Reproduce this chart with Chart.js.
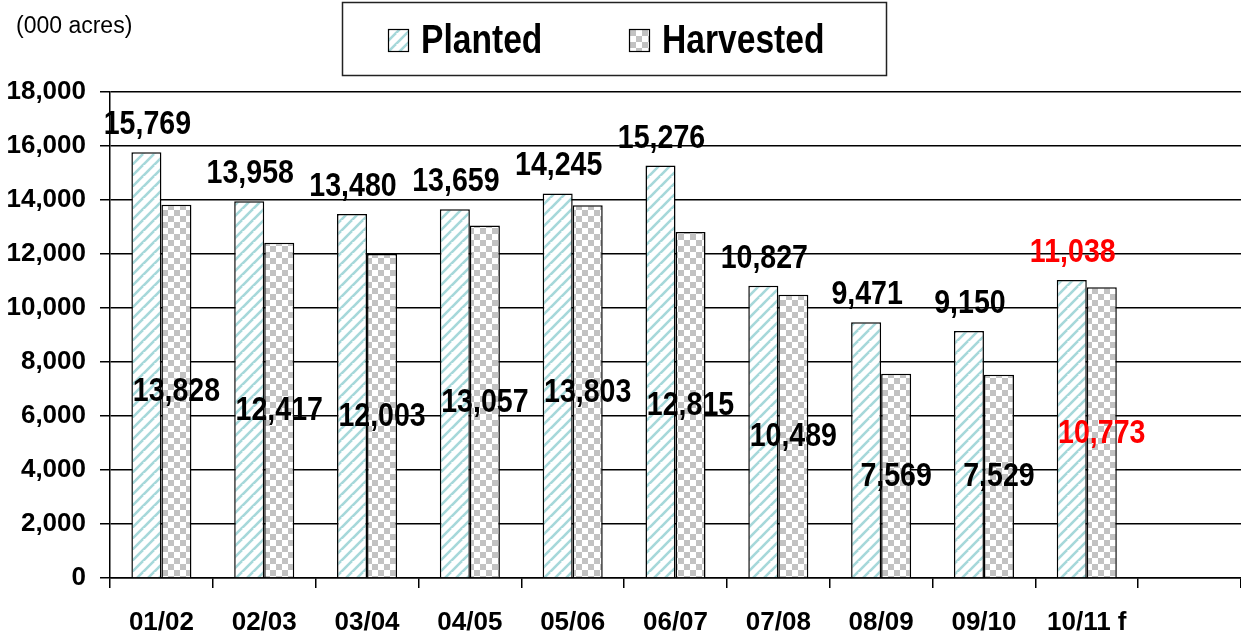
<!DOCTYPE html>
<html>
<head>
<meta charset="utf-8">
<script src="https://cdn.jsdelivr.net/npm/chart.js@4"></script>
<style>
  html, body { margin: 0; padding: 0; background: #fff; }
  #wrap { position: relative; width: 1241px; height: 634px; }
</style>
</head>
<body>
<div id="wrap"><canvas id="acres" width="1241" height="634"></canvas></div>
<script>
// ============ DATA ============
const seasons   = ['01/02', '02/03', '03/04', '04/05', '05/06', '06/07', '07/08', '08/09', '09/10', '10/11 f', ''];
const planted   = [15769, 13958, 13480, 13659, 14245, 15276, 10827, 9471, 9150, 11038];
const harvested = [13828, 12417, 12003, 13057, 13803, 12815, 10489, 7569, 7529, 10773];
const forecastIdx = 9;   // last season is a forecast, labelled in red
const yTicks = [0, 2000, 4000, 6000, 8000, 10000, 12000, 14000, 16000, 18000];

const ARIAL = '"Liberation Sans", Arial, sans-serif';

// ============ PATTERNS ============
function stripePattern() {
  const n = 11;
  const c = document.createElement('canvas');
  c.width = n; c.height = n;
  const g = c.getContext('2d');
  g.fillStyle = '#fff';
  g.fillRect(0, 0, n, n);
  g.strokeStyle = '#a6d8da';
  g.lineWidth = 2.6;
  [[-n, n, 0, 0], [0, n, n, 0], [0, 2 * n, 2 * n, 0]].forEach(([x1, y1, x2, y2]) => {
    g.beginPath(); g.moveTo(x1, y1); g.lineTo(x2, y2); g.stroke();
  });
  return g.createPattern(c, 'repeat');
}
function checkerPattern() {
  const s = 6;
  const c = document.createElement('canvas');
  c.width = 2 * s; c.height = 2 * s;
  const g = c.getContext('2d');
  g.fillStyle = '#fff';
  g.fillRect(0, 0, 2 * s, 2 * s);
  g.fillStyle = '#c2c2c2';
  g.fillRect(0, 0, s, s);
  g.fillRect(s, s, s, s);
  return g.createPattern(c, 'repeat');
}
const stripes = stripePattern();
const checks  = checkerPattern();

const fmt = v => v.toLocaleString('en-US');

// condensed bold text (no narrow font installed, so squeeze Arial)
function squeezeText(ctx, text, x, y, sx) {
  ctx.save();
  ctx.translate(x, y);
  ctx.scale(sx, 1);
  ctx.fillText(text, 0, 0);
  ctx.restore();
}

// ============ VALUE LABELS ============
const valueLabels = {
  id: 'valueLabels',
  afterDatasetsDraw(chart) {
    const ctx = chart.ctx;
    ctx.save();
    ctx.font = 'bold 34px ' + ARIAL;
    ctx.textAlign = 'center';
    chart.getDatasetMeta(0).data.forEach((bar, i) => {
      ctx.fillStyle = i === forecastIdx ? '#ff0000' : '#000';
      ctx.textBaseline = 'alphabetic';
      squeezeText(ctx, fmt(planted[i]), bar.x + 1, bar.y - 18, 0.84);
    });
    chart.getDatasetMeta(1).data.forEach((bar, i) => {
      ctx.fillStyle = i === forecastIdx ? '#ff0000' : '#000';
      ctx.textBaseline = 'middle';
      squeezeText(ctx, fmt(harvested[i]), bar.x, (bar.y + bar.base) / 2 + 1, 0.84);
    });
    ctx.restore();
  }
};

// ============ LEGEND BOX + UNIT ============
const legendBox = {
  id: 'legendBox',
  afterDraw(chart) {
    const ctx = chart.ctx;
    ctx.save();
    ctx.strokeStyle = '#222';
    ctx.lineWidth = 1.5;
    ctx.strokeRect(342.5, 2.5, 544, 73);

    const items = [
      { x: 388, fill: stripes, text: 'Planted' },
      { x: 629, fill: checks,  text: 'Harvested' }
    ];
    ctx.font = 'bold 40px ' + ARIAL;
    ctx.textBaseline = 'alphabetic';
    ctx.textAlign = 'left';
    items.forEach(it => {
      ctx.fillStyle = it.fill;
      ctx.fillRect(it.x, 29, 20, 22);
      ctx.lineWidth = 1.2;
      ctx.strokeStyle = '#000';
      ctx.strokeRect(it.x + 0.5, 29.5, 20, 22);
      ctx.fillStyle = '#000';
      squeezeText(ctx, it.text, it.x + 33, 53, 0.84);
    });

    ctx.font = '23px ' + ARIAL;
    ctx.fillStyle = '#000';
    ctx.fillText('(000 acres)', 16, 33);
    ctx.restore();
  }
};

// ============ CHART ============
new Chart(document.getElementById('acres'), {
  type: 'bar',
  data: {
    labels: seasons,
    datasets: [
      { label: 'Planted',   data: planted,   backgroundColor: stripes, borderColor: '#000', borderWidth: 1.5 },
      { label: 'Harvested', data: harvested, backgroundColor: checks,  borderColor: '#000', borderWidth: 1.5 }
    ]
  },
  options: {
    responsive: false,
    animation: false,
    devicePixelRatio: 1,
    layout: { padding: { top: 92, right: 0, left: 0, bottom: 0 } },
    datasets: { bar: { categoryPercentage: 0.584, barPercentage: 1 } },
    plugins: { legend: { display: false }, tooltip: { enabled: false } },
    scales: {
      x: {
        afterFit: s => { s.height = 56; },
        grid: { display: true, offset: true, drawOnChartArea: false, drawTicks: true, tickLength: 10, color: '#000', lineWidth: 1.5 },
        border: { display: true, color: '#000', width: 1.5 },
        ticks: { color: '#000', font: { family: ARIAL, size: 26, weight: 'bold' }, padding: 19, maxRotation: 0, autoSkip: false }
      },
      y: {
        min: 0, max: 18000,
        afterFit: s => { s.width = 110; },
        afterBuildTicks: s => { s.ticks = yTicks.map(v => ({ value: v })); },
        grid: { color: '#000', lineWidth: 1.5, drawTicks: true, tickLength: 10 },
        border: { display: true, color: '#000', width: 1.5 },
        ticks: { color: '#000', font: { family: ARIAL, size: 26, weight: 'bold' }, padding: 14, callback: v => fmt(v) }
      }
    }
  },
  plugins: [valueLabels, legendBox]
});
</script>
</body>
</html>
